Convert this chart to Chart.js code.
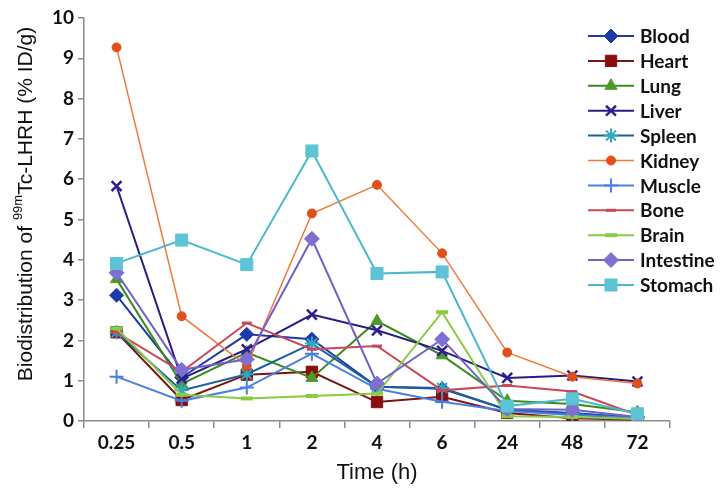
<!DOCTYPE html>
<html>
<head>
<meta charset="utf-8">
<script src="https://cdn.jsdelivr.net/npm/chart.js@4.4.0/dist/chart.umd.min.js"></script>
<style>
  html, body { margin: 0; padding: 0; background: #fff; }
  #wrap { width: 724px; height: 496px; }
</style>
</head>
<body>
<div id="wrap"><canvas id="chart" width="724" height="496"></canvas></div>
<script>
// time points (h)
const timeLabels = ['0.25', '0.5', '1', '2', '4', '6', '24', '48', '72'];
const yTicks = [0, 1, 2, 3, 4, 5, 6, 7, 8, 9, 10];

// % ID/g per organ
const blood     = [3.12, 1.08, 2.15, 2.03, 0.85, 0.80, 0.28, 0.20, 0.08];
const heart     = [2.20, 0.52, 1.15, 1.22, 0.47, 0.60, 0.20, 0.07, 0.03];
const lung      = [3.52, 0.92, 1.70, 1.07, 2.48, 1.63, 0.50, 0.42, 0.22];
const liver     = [5.83, 1.05, 1.78, 2.64, 2.25, 1.74, 1.07, 1.13, 0.98];
const spleen    = [2.20, 0.76, 1.16, 1.92, 0.85, 0.82, 0.28, 0.18, 0.08];
const kidney    = [9.27, 2.60, 1.37, 5.15, 5.86, 4.16, 1.70, 1.10, 0.93];
const muscle    = [1.10, 0.50, 0.83, 1.67, 0.80, 0.48, 0.25, 0.15, 0.07];
const bone      = [2.20, 1.22, 2.43, 1.78, 1.86, 0.76, 0.88, 0.73, 0.15];
const brain     = [2.30, 0.65, 0.56, 0.62, 0.68, 2.70, 0.12, 0.10, 0.05];
const intestine = [3.68, 1.27, 1.53, 4.52, 0.93, 2.03, 0.30, 0.28, 0.10];
const stomach   = [3.91, 4.49, 3.88, 6.70, 3.66, 3.70, 0.37, 0.55, 0.18];

const organs = ['Blood', 'Heart', 'Lung', 'Liver', 'Spleen', 'Kidney', 'Muscle', 'Bone', 'Brain', 'Intestine', 'Stomach'];
const organData = [blood, heart, lung, liver, spleen, kidney, muscle, bone, brain, intestine, stomach];

// look of each series
const styles = [
  { line: '#1f3aa0', mark: '#1c3aa8', shape: 'rectRot',  r: 7,   bw: 1,   lw: 2 },
  { line: '#7a1515', mark: '#8b0d0d', shape: 'rect',     r: 8,   bw: 1,   lw: 2 },
  { line: '#3b8a1e', mark: '#4e9a2a', shape: 'triangle', r: 7,   bw: 1,   lw: 2 },
  { line: '#2a1c80', mark: '#2e2090', shape: 'crossRot', r: 7,   bw: 2.5, lw: 2 },
  { line: '#1e5f9e', mark: '#2fa8c0', shape: 'star',     r: 7,   bw: 2,   lw: 2 },
  { line: '#f07a3c', mark: '#e0501a', shape: 'circle',   r: 4.5, bw: 1,   lw: 1.5 },
  { line: '#4a80e0', mark: '#4a80e0', shape: 'cross',    r: 7,   bw: 2,   lw: 2 },
  { line: '#c8485a', mark: '#c8485a', shape: 'line',     r: 5,   bw: 3,   lw: 2 },
  { line: '#88cc44', mark: '#88cc44', shape: 'line',     r: 6,   bw: 4,   lw: 2 },
  { line: '#7060c8', mark: '#7f6fd2', shape: 'rectRot',  r: 7.5, bw: 1,   lw: 2 },
  { line: '#48b8cc', mark: '#5cc4d4', shape: 'rect',     r: 8.5, bw: 1,   lw: 2 }
];

const datasets = organs.map((name, i) => {
  const s = styles[i];
  return {
    label: name,
    data: organData[i],
    borderColor: s.line,
    borderWidth: s.lw,
    backgroundColor: s.mark,
    pointStyle: s.shape,
    pointRadius: s.r,
    pointHoverRadius: s.r,
    pointBackgroundColor: s.mark,
    pointBorderColor: s.mark,
    pointBorderWidth: s.bw,
    tension: 0,
    order: organs.length - i
  };
});

const overlay = {
  id: 'overlay',
  afterDraw(chart) {
    const ctx = chart.ctx;
    ctx.save();

    // legend, drawn inside the plot at top right
    organs.forEach((name, i) => {
      const s = styles[i];
      const y = 36 + i * 24.9;
      ctx.strokeStyle = s.line;
      ctx.lineWidth = s.lw;
      ctx.beginPath();
      ctx.moveTo(588, y);
      ctx.lineTo(634, y);
      ctx.stroke();
      ctx.fillStyle = s.mark;
      ctx.strokeStyle = s.mark;
      ctx.lineWidth = s.bw;
      Chart.helpers.drawPoint(ctx, { pointStyle: s.shape, radius: s.r, borderWidth: s.bw, rotation: 0 }, 611, y);
      ctx.fillStyle = '#111';
      ctx.font = 'bold 19px Lato';
      ctx.textAlign = 'left';
      ctx.textBaseline = 'middle';
      ctx.fillText(name, 640, y + 1);
    });

    // x title
    ctx.fillStyle = '#111';
    ctx.font = '22px "Liberation Sans"';
    ctx.textAlign = 'center';
    ctx.textBaseline = 'middle';
    ctx.fillText('Time (h)', 377, 473);

    // y title with superscript
    const big = '21px "Liberation Sans"', small = '13px "Liberation Sans"';
    const p1 = 'Biodistribution of ', p2 = '99m', p3 = 'Tc-LHRH (% ID/g)';
    ctx.font = big;
    const w1 = ctx.measureText(p1).width, w3 = ctx.measureText(p3).width;
    ctx.font = small;
    const w2 = ctx.measureText(p2).width;
    const total = w1 + w2 + w3;
    ctx.translate(24, 204);
    ctx.rotate(-Math.PI / 2);
    ctx.textAlign = 'left';
    ctx.textBaseline = 'alphabetic';
    let x = -total / 2;
    ctx.font = big;
    ctx.fillText(p1, x, 8);
    x += w1;
    ctx.font = small;
    ctx.fillText(p2, x, -2);
    x += w2;
    ctx.font = big;
    ctx.fillText(p3, x, 8);

    ctx.restore();
  }
};

new Chart(document.getElementById('chart'), {
  type: 'line',
  data: { labels: timeLabels, datasets: datasets },
  plugins: [overlay],
  options: {
    responsive: false,
    animation: false,
    layout: { padding: { top: 18, right: 54, left: 0, bottom: 0 } },
    plugins: { legend: { display: false }, tooltip: { enabled: false } },
    scales: {
      x: {
        offset: true,
        grid: { display: true, offset: true, drawOnChartArea: false, tickLength: 7, color: '#8a8a8a', lineWidth: 1.5 },
        border: { color: '#8a8a8a', width: 1.5 },
        ticks: { color: '#111', font: { family: 'Lato', size: 19, weight: 'bold' }, padding: 3, maxRotation: 0 },
        afterFit(s) { s.height = 75; }
      },
      y: {
        min: 0,
        max: 10,
        afterBuildTicks(s) { s.ticks = yTicks.map(v => ({ value: v })); },
        grid: { display: true, drawOnChartArea: false, tickLength: 6, color: '#8a8a8a', lineWidth: 1.5 },
        border: { color: '#8a8a8a', width: 1.5 },
        ticks: { color: '#111', font: { family: 'Lato', size: 19, weight: 'bold' }, padding: 4 },
        afterFit(s) { s.width = 84; }
      }
    }
  }
});
</script>
</body>
</html>
